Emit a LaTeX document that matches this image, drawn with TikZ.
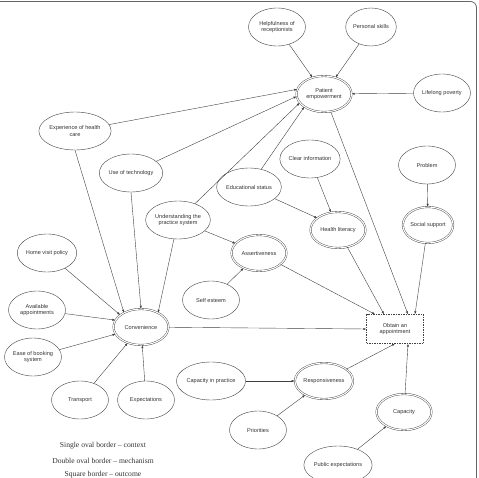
\documentclass[tikz,border=0pt]{standalone}
\usepackage{fontspec}
\setmainfont{Liberation Sans}
\newfontfamily\legendfont[Ligatures=TeX]{Liberation Serif}
\usetikzlibrary{shapes.geometric, arrows.meta}

\begin{document}
\begin{tikzpicture}[x=1pt, y=-1pt,
        every node/.style={font=\fontsize{5.6}{6.6}\selectfont, align=center,
                           inner sep=0pt, text=black!80},
        ctx/.style={ellipse, draw=black!75, minimum width=57pt, minimum height=38pt},
        mech/.style={ellipse, draw=black!75, double, double distance=1.1pt,
                     minimum width=55pt, minimum height=36pt},
        outc/.style={rectangle, draw=black!75, dash pattern=on 1.5pt off 1pt,
                     minimum width=57pt, minimum height=29pt},
        legend/.style={font=\legendfont\fontsize{7.6}{9}\selectfont},
        link/.style={draw=black!75, -{Latex[length=3pt, width=2.2pt]}}]
      \useasboundingbox (0,0) rectangle (479,478);
      \draw[black!60, line width=0.8pt, rounded corners=6pt]
        (0,1.5) -- (476.5,1.5) -- (476.5,478);
      % context nodes
      \node[ctx] (help)  at (277, 27)  {Helpfulness of\\receptionists};
      \node[ctx, minimum width=48pt] (skill) at (371, 27) {Personal skills};
      \node[ctx] (pov)   at (442, 93)  {Lifelong poverty};
      \node[ctx] (exper) at (75, 131)  {Experience of health\\care};
      \node[ctx] (tech)  at (131, 173) {Use of technology};
      \node[ctx] (edu)   at (249, 187) {Educational status};
      \node[ctx] (under) at (178, 220) {Understanding the\\practice system};
      \node[ctx] (clear) at (310, 159) {Clear information};
      \node[ctx] (prob)  at (427, 165) {Problem};
      \node[ctx] (self)  at (211, 300) {Self esteem};
      \node[ctx] (home)  at (47, 253)  {Home visit policy};
      \node[ctx] (avail) at (37, 310)  {Available\\appointments};
      \node[ctx] (ease)  at (33, 357)  {Ease of booking\\system};
      \node[ctx] (trans) at (80, 400)  {Transport};
      \node[ctx] (expec) at (146, 400) {Expectations};
      \node[ctx] (cap)   at (211, 381) {Capacity in practice};
      \node[ctx] (prio)  at (258, 430) {Priorities};
      \node[ctx] (pub)   at (338, 465) {Public expectations};
      % mechanism nodes
      \node[mech] (pe)   at (324, 94)  {Patient\\empowerment};
      \node[mech] (hl)   at (338, 230) {Health literacy};
      \node[mech, minimum width=46pt] (soc) at (428, 225) {Social support};
      \node[mech] (ass)  at (259, 253) {Assertiveness};
      \node[mech] (conv) at (141, 327) {Convenience};
      \node[mech] (resp) at (324, 381) {Responsiveness};
      \node[mech] (capy) at (404, 412) {Capacity};
      % outcome
      \node[outc] (obt)  at (395, 329) {Obtain an\\appointment};
      % legend
      \node[legend] (leg1) at (103, 446) {Single oval border \textendash{} context};
      \node[legend] (leg2) at (103, 461) {Double oval border \textendash{} mechanism};
      \node[legend] (leg3) at (103, 475) {Square border \textendash{} outcome};
      % connectors
      \draw[link] (help) -- (pe);
      \draw[link] (skill) -- (pe);
      \draw[link] (pov) -- (pe);
      \draw[link] (exper) -- (pe.170);
      \draw[link] (tech) -- (pe.185);
      \draw[link] (under) -- (pe.200);
      \draw[link] (edu) -- (pe.213);
      \draw[link] (exper.south) -- (conv.140);
      \draw[link] (tech.south) -- (conv.north);
      \draw[link] (under) -- (conv.40);
      \draw[link] (home) -- (conv.150);
      \draw[link] (avail) -- (conv.165);
      \draw[link] (ease) -- (conv);
      \draw[link] (trans) -- (conv);
      \draw[link] (expec) -- (conv);
      \draw[link] (under) -- (ass);
      \draw[link] (self) -- (ass);
      \draw[link] (edu) -- (hl.150);
      \draw[link] (clear) -- (hl);
      \draw[link] (prob) -- (soc);
      \draw[link] (cap) -- (resp);
      \draw[link] (prio) -- (resp);
      \draw[link] (pub) -- (capy);
      \draw[link] (conv) -- (obt.west);
      \draw[link] (ass) -- ([xshift=-20pt]obt.north);
      \draw[link] (hl) -- ([xshift=-11pt]obt.north);
      \draw[link] (pe) -- ([xshift=13pt]obt.north);
      \draw[link] (soc) -- ([xshift=20pt]obt.north);
      \draw[link] (resp) -- (obt.south);
      \draw[link] (capy) -- ([xshift=13pt]obt.south);
    \end{tikzpicture}
\end{document}
